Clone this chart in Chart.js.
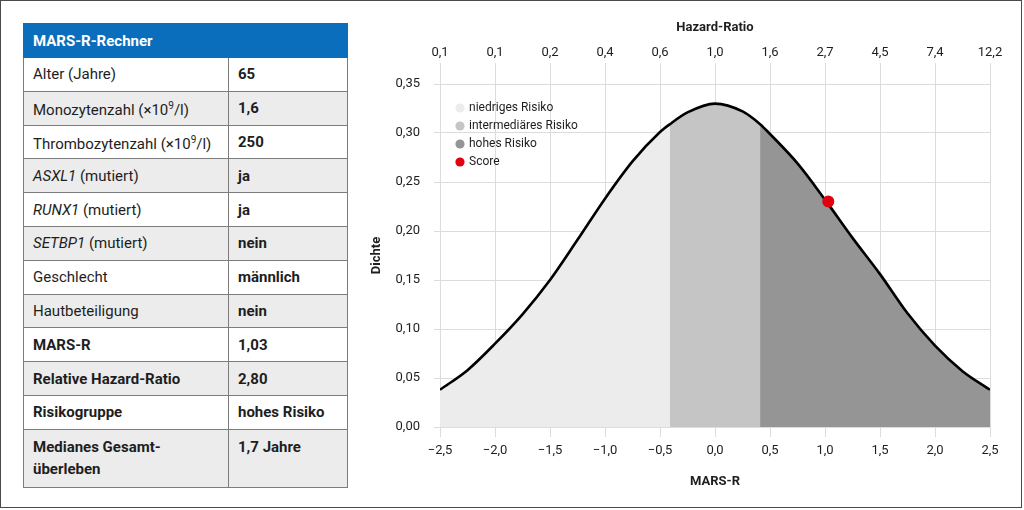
<!DOCTYPE html>
<html lang="de">
<head>
<meta charset="utf-8">
<title>MARS-R-Rechner</title>
<script src="https://cdn.jsdelivr.net/npm/chart.js@4/dist/chart.umd.min.js"></script>
<style>
  html, body { margin: 0; padding: 0; background: #fff; }
  body { width: 1024px; height: 510px; position: relative; overflow: hidden; font-family: Roboto, "Noto Sans", sans-serif; color: #1e1e1e; }
  #rahmen { position: absolute; left: 0; top: 0; width: 1020px; height: 506px; border: 1.5px solid #4a4a4a; }
  #rechner { position: absolute; left: 23px; top: 23px; width: 325px; border-collapse: collapse; font-size: 15px; }
  #rechner th { background: #0b6ebd; color: #fff; text-align: left; font-weight: 700; height: 33px; padding: 0 9px; border: 1.5px solid #0b6ebd; }
  #rechner td { height: 32.8px; padding: 0 9px; border: 1.5px solid #7c7c7c; line-height: 22px; }
  #rechner td:first-child { width: 186px; }
  #rechner td:last-child { font-weight: 700; }
  #rechner tr:nth-child(even) td { background: #ececec; }
  #rechner tr.fett td { font-weight: 700; }
  #rechner tr.hoch td { height: 51px; vertical-align: top; padding-top: 6px; }
  #diagramm { position: absolute; left: 355px; top: 0; width: 665px; height: 508px; }
</style>
</head>
<body>
<div id="rahmen"></div>
<table id="rechner">
  <thead><tr><th colspan="2">MARS-R-Rechner</th></tr></thead>
  <tbody>
    <tr><td>Alter (Jahre)</td><td>65</td></tr>
    <tr><td>Monozytenzahl (×10<sup style="font-size:10px">9</sup>/l)</td><td>1,6</td></tr>
    <tr><td>Thrombozytenzahl (×10<sup style="font-size:10px">9</sup>/l)</td><td>250</td></tr>
    <tr><td><i>ASXL1</i> (mutiert)</td><td>ja</td></tr>
    <tr><td><i>RUNX1</i> (mutiert)</td><td>ja</td></tr>
    <tr><td><i>SETBP1</i> (mutiert)</td><td>nein</td></tr>
    <tr><td>Geschlecht</td><td>männlich</td></tr>
    <tr><td>Hautbeteiligung</td><td>nein</td></tr>
    <tr class="fett"><td>MARS-R</td><td>1,03</td></tr>
    <tr class="fett"><td>Relative Hazard-Ratio</td><td>2,80</td></tr>
    <tr class="fett"><td>Risikogruppe</td><td>hohes Risiko</td></tr>
    <tr class="fett hoch"><td>Medianes Gesamt-<br>überleben</td><td>1,7 Jahre</td></tr>
  </tbody>
</table>
<div id="diagramm"><canvas id="grafico"></canvas></div>
<script>
// Dichtekurve
const marsR = [-2.5, -2.25, -2, -1.75, -1.5, -1.25, -1, -0.75, -0.5, -0.41, -0.25, 0, 0.25, 0.41, 0.5, 0.75, 1, 1.25, 1.5, 1.75, 2, 2.25, 2.5];
const dichte = [0.038, 0.058, 0.085, 0.115, 0.150, 0.191, 0.233, 0.271, 0.301, 0.309, 0.321, 0.330, 0.322, 0.309, 0.299, 0.269, 0.232, 0.193, 0.156, 0.116, 0.083, 0.057, 0.038];

// Grenzen der Risikogruppen
const grenzeNiedrig = -0.41;
const grenzeHoch = 0.41;

// Score des Patienten
const scoreX = [1.03];
const scoreY = [0.23];

const marsTicks = ["\u22122,5", "\u22122,0", "\u22121,5", "\u22121,0", "\u22120,5", "0,0", "0,5", "1,0", "1,5", "2,0", "2,5"];
const hazardTicks = ["0,1", "0,1", "0,2", "0,4", "0,6", "1,0", "1,6", "2,7", "4,5", "7,4", "12,2"];
const gruppen = ["niedriges Risiko", "intermediäres Risiko", "hohes Risiko"];
const farben = ["#ececec", "#c5c5c5", "#959595"];

function punkte(von, bis) {
  const p = [];
  marsR.forEach((x, i) => {
    if (x >= von && x <= bis) p.push({ x: x, y: dichte[i] });
  });
  return p;
}

const bereiche = [
  punkte(-2.5, grenzeNiedrig),
  punkte(grenzeNiedrig, grenzeHoch),
  punkte(grenzeHoch, 2.5)
];

const schrift = { family: "Roboto", size: 13 };
const gitter = "#dcdcdc";

const datasets = gruppen.map((g, i) => ({
  label: g,
  data: bereiche[i],
  backgroundColor: farben[i],
  borderWidth: 0,
  pointRadius: 0,
  fill: "origin",
  cubicInterpolationMode: "monotone",
  order: 2
}));

datasets.push({
  label: "Kurve",
  data: marsR.map((x, i) => ({ x: x, y: dichte[i] })),
  borderColor: "#000",
  borderWidth: 2.6,
  pointRadius: 0,
  fill: false,
  cubicInterpolationMode: "monotone",
  order: 1
});

datasets.push({
  label: "Score",
  data: scoreX.map((x, i) => ({ x: x, y: scoreY[i] })),
  backgroundColor: "#e3000f",
  borderColor: "#e3000f",
  borderWidth: 0,
  pointRadius: 6,
  showLine: false,
  order: 0
});

// Legende oben links ins Diagramm setzen (legend.update setzt top auf 0 zurück)
const legendeVersatz = {
  id: "legendeVersatz",
  afterLayout(chart) {
    if (chart.legend) {
      chart.legend.left = chart.chartArea.left + 11;
      chart.legend.top = chart.chartArea.top + 12;
    }
  }
};

new Chart(document.getElementById("grafico"), {
  type: "line",
  data: { datasets: datasets },
  plugins: [legendeVersatz],
  options: {
    responsive: true,
    maintainAspectRatio: false,
    animation: false,
    layout: { padding: { left: 0, right: 30, top: 0, bottom: 0 } },
    plugins: {
      tooltip: { enabled: false },
      legend: {
        position: "chartArea",
        align: "start",
        labels: {
          font: { family: "Roboto", size: 12 },
          color: "#1e1e1e",
          usePointStyle: true,
          pointStyle: "circle",
          boxWidth: 6,
          boxHeight: 6.5,
          padding: 6,
          filter: (item) => item.text !== "Kurve",
          sort: (a, b) => a.datasetIndex - b.datasetIndex
        }
      }
    },
    scales: {
      x: {
        type: "linear",
        position: "bottom",
        min: -2.5,
        max: 2.5,
        afterFit: (s) => { s.height = 81; },
        ticks: {
          stepSize: 0.5,
          padding: 6,
          color: "#1e1e1e",
          font: schrift,
          callback: (v, i) => marsTicks[i]
        },
        grid: { color: gitter, tickLength: 10 },
        border: { display: false },
        title: {
          display: true,
          text: "MARS-R",
          color: "#1e1e1e",
          font: { family: "Roboto", size: 13, weight: "bold" },
          padding: { top: 0, bottom: 18 }
        }
      },
      x2: {
        type: "linear",
        position: "top",
        min: -2.5,
        max: 2.5,
        afterFit: (s) => { s.height = 84; },
        ticks: {
          stepSize: 0.5,
          padding: 2,
          color: "#1e1e1e",
          font: schrift,
          callback: (v, i) => hazardTicks[i]
        },
        grid: { color: gitter, tickLength: 21, drawOnChartArea: false },
        border: { display: false },
        title: {
          display: true,
          text: "Hazard-Ratio",
          color: "#1e1e1e",
          font: { family: "Roboto", size: 13, weight: "bold" },
          padding: { top: 20, bottom: 0 }
        }
      },
      y: {
        min: 0,
        max: 0.35,
        afterFit: (s) => { s.width = 85; },
        ticks: {
          stepSize: 0.05,
          padding: 14,
          color: "#1e1e1e",
          font: schrift,
          callback: (v) => v.toFixed(2).replace(".", ",")
        },
        grid: { color: gitter, tickLength: 6 },
        border: { display: false },
        title: {
          display: true,
          text: "Dichte",
          color: "#1e1e1e",
          font: { family: "Roboto", size: 13, weight: "bold" },
          padding: { top: 14, bottom: 0 }
        }
      }
    }
  }
});
</script>
</body>
</html>
